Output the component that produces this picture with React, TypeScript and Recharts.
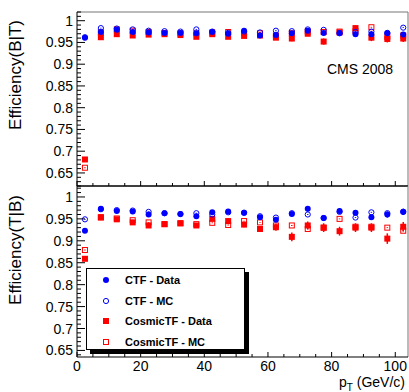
import { ScatterChart, Scatter, XAxis, YAxis, ErrorBar, ReferenceLine, Legend, Label } from "recharts";

// pT bin centres (GeV/c)
const ptBins = [2.5, 7.5, 12.5, 17.5, 22.5, 27.5, 32.5, 37.5, 42.5, 47.5, 52.5, 57.5, 62.5, 67.5, 72.5, 77.5, 82.5, 87.5, 92.5, 97.5, 102.5];

// upper pad: Efficiency(B|T)
const btCtfData = [0.961, 0.974, 0.979, 0.974, 0.973, 0.972, 0.972, 0.971, 0.974, 0.970, 0.977, 0.966, 0.967, 0.971, 0.977, 0.972, 0.972, 0.969, 0.969, 0.971, 0.968];
const btCtfDataErr = [0.002, 0.002, 0.002, 0.002, 0.002, 0.002, 0.002, 0.002, 0.002, 0.002, 0.002, 0.003, 0.003, 0.003, 0.003, 0.003, 0.003, 0.004, 0.004, 0.004, 0.004];
const btCtfMc = [0.962, 0.983, 0.982, 0.980, 0.977, 0.976, 0.975, 0.980, 0.975, 0.972, 0.975, 0.973, 0.977, 0.976, 0.980, 0.979, 0.971, 0.974, 0.975, 0.972, 0.984];
const btCosmicData = [0.681, 0.962, 0.969, 0.966, 0.968, 0.969, 0.967, 0.963, 0.969, 0.963, 0.965, 0.966, 0.961, 0.959, 0.970, 0.952, 0.973, 0.983, 0.961, 0.958, 0.959];
const btCosmicDataErr = [0.004, 0.002, 0.002, 0.002, 0.003, 0.003, 0.003, 0.003, 0.003, 0.004, 0.004, 0.005, 0.005, 0.006, 0.005, 0.007, 0.006, 0.006, 0.008, 0.008, 0.008];
const btCosmicMc = [0.662, 0.973, 0.980, 0.977, 0.974, 0.972, 0.971, 0.971, 0.973, 0.974, 0.971, 0.971, 0.966, 0.971, 0.975, 0.974, 0.975, 0.976, 0.985, 0.963, 0.966];

// lower pad: Efficiency(T|B)
const tbCtfData = [0.923, 0.973, 0.968, 0.967, 0.960, 0.963, 0.961, 0.956, 0.965, 0.967, 0.964, 0.954, 0.948, 0.961, 0.973, 0.952, 0.968, 0.964, 0.954, 0.960, 0.966];
const tbCtfDataErr = [0.003, 0.002, 0.002, 0.002, 0.003, 0.003, 0.003, 0.003, 0.003, 0.003, 0.003, 0.004, 0.004, 0.005, 0.006, 0.006, 0.006, 0.006, 0.006, 0.007, 0.007];
const tbCtfMc = [0.949, 0.972, 0.970, 0.969, 0.966, 0.963, 0.961, 0.963, 0.960, 0.965, 0.964, 0.956, 0.953, 0.963, 0.960, 0.952, 0.966, 0.953, 0.965, 0.963, 0.966];
const tbCosmicData = [0.859, 0.954, 0.949, 0.942, 0.935, 0.938, 0.940, 0.935, 0.950, 0.945, 0.937, 0.927, 0.931, 0.909, 0.935, 0.930, 0.922, 0.930, 0.930, 0.905, 0.932];
const tbCosmicDataErr = [0.004, 0.003, 0.003, 0.004, 0.004, 0.004, 0.004, 0.005, 0.005, 0.006, 0.006, 0.007, 0.008, 0.010, 0.009, 0.010, 0.010, 0.010, 0.010, 0.012, 0.011];
const tbCosmicMc = [0.879, 0.953, 0.951, 0.947, 0.942, 0.938, 0.940, 0.938, 0.941, 0.936, 0.945, 0.942, 0.935, 0.935, 0.927, 0.930, 0.950, 0.932, 0.932, 0.930, 0.923];

const legendNames = ["CTF - Data", "CTF - MC", "CosmicTF - Data", "CosmicTF - MC"];

const xTicks = [0, 5, 10, 15, 20, 25, 30, 35, 40, 45, 50, 55, 60, 65, 70, 75, 80, 85, 90, 95, 100];
const xLabels = [0, 20, 40, 60, 80, 100];
const yLabels = [0.65, 0.7, 0.75, 0.8, 0.85, 0.9, 0.95, 1];

const W = 409;
const H = 392;
const PLOT_LEFT = 77;
const PLOT_RIGHT = 408;
const SPLIT_Y = 186;
const AXIS_Y = 357;
const FONT = "'Liberation Sans', Arial, Helvetica, sans-serif";
const BLUE = "#0000ff";
const RED = "#ff0000";

// minor ticks every 0.01
const minorTicks = (lo: number, hi: number) => {
  const out: number[] = [];
  for (let v = Math.round(lo * 100); v <= Math.round(hi * 100); v++) out.push(v / 100);
  return out;
};
const yTicksTop = minorTicks(0.62, 1.02);
const yTicksBottom = minorTicks(0.64, 1.02);

const rows = (vals: number[], errs?: number[]) =>
  ptBins.map((pt, i) => ({ pt, eff: vals[i], err: errs ? errs[i] : 0.001 }));

function marker(kind: number, cx: number, cy: number) {
  if (kind === 0) return <circle cx={cx} cy={cy} r={3} fill={BLUE} />;
  if (kind === 1) return <circle cx={cx} cy={cy} r={2.6} fill="none" stroke={BLUE} strokeWidth={1} />;
  if (kind === 2) return <rect x={cx - 3} y={cy - 3} width={6} height={6} fill={RED} />;
  return <rect x={cx - 2.5} y={cy - 2.5} width={5} height={5} fill="none" stroke={RED} strokeWidth={1} />;
}

const shape = (kind: number) => (p: any) => marker(kind, p.cx, p.cy);

function YTick(props: any) {
  const { y, payload } = props;
  const v = payload.value;
  const major = yLabels.some((m) => Math.abs(m - v) < 1e-6);
  return (
    <g>
      <line x1={PLOT_LEFT} x2={PLOT_LEFT + (major ? 8 : 4)} y1={y} y2={y} stroke="#000" strokeWidth={1} />
      {major && (
        <text x={PLOT_LEFT - 4} y={y} textAnchor="end" dominantBaseline="central" fontSize={14} fontFamily={FONT} fill="#000">
          {String(Math.round(v * 100) / 100)}
        </text>
      )}
    </g>
  );
}

const makeXTick = (axisY: number, showLabels: boolean) => (props: any) => {
  const { x, payload } = props;
  const major = xLabels.includes(payload.value);
  return (
    <g>
      <line x1={x} x2={x} y1={axisY} y2={axisY - (major ? 5 : 3)} stroke="#000" strokeWidth={1} />
      {major && showLabels && (
        <text x={x} y={axisY + 14} textAnchor="middle" fontSize={14} fontFamily={FONT} fill="#000">
          {payload.value}
        </text>
      )}
    </g>
  );
};

const yTitle = (text: string, cy: number) => () => (
  <text x={15} y={cy} transform={`rotate(-90 15 ${cy})`} textAnchor="middle" dominantBaseline="central" fontSize={17} fontFamily={FONT} fill="#000">
    {text}
  </text>
);

function LegendBox() {
  return (
    <div style={{ position: "relative", width: 157, height: 80, background: "#fff", border: "1px solid #000", boxShadow: "4px 4px 0 #000", fontFamily: FONT, fontWeight: "bold", fontSize: 11, color: "#000" }}>
      {legendNames.map((name, i) => (
        <div key={name} style={{ position: "absolute", left: 0, top: 4 + i * 20.5, height: 14, display: "flex", alignItems: "center", whiteSpace: "nowrap" }}>
          <svg width={38} height={14}>{marker(i, 19, 7)}</svg>
          <span>{name}</span>
        </div>
      ))}
    </div>
  );
}

export default function App() {
  const layer = { position: "absolute" as const, left: 0, top: 0 };
  return (
    <div style={{ position: "absolute", left: 0, top: 0, width: W, height: H, background: "#fff" }}>
      <div style={layer}>
        <ScatterChart width={W} height={H} margin={{ top: 12, right: W - PLOT_RIGHT, bottom: H - SPLIT_Y - 2, left: 17 }}>
          <XAxis type="number" dataKey="pt" domain={[0, 104]} ticks={xTicks} interval={0} height={2} tickLine={false} axisLine={{ stroke: "#000" }} tick={makeXTick(SPLIT_Y, false)} allowDataOverflow />
          <YAxis type="number" dataKey="eff" domain={[0.62, 1.02]} ticks={yTicksTop} interval={0} width={60} tickLine={false} axisLine={{ stroke: "#000" }} tick={YTick} allowDataOverflow>
            <Label content={yTitle("Efficiency(B|T)", 75)} />
          </YAxis>
          <ReferenceLine y={1.02} stroke="#777" />
          <ReferenceLine y={0.62} stroke="#000" />
          <ReferenceLine x={104} stroke="#777" />
          <Scatter data={rows(btCosmicMc)} shape={shape(3)} isAnimationActive={false}>
            <ErrorBar dataKey="err" direction="y" width={0} stroke={RED} />
          </Scatter>
          <Scatter data={rows(btCosmicData, btCosmicDataErr)} shape={shape(2)} isAnimationActive={false}>
            <ErrorBar dataKey="err" direction="y" width={0} stroke={RED} />
          </Scatter>
          <Scatter data={rows(btCtfMc)} shape={shape(1)} isAnimationActive={false}>
            <ErrorBar dataKey="err" direction="y" width={0} stroke={BLUE} />
          </Scatter>
          <Scatter data={rows(btCtfData, btCtfDataErr)} shape={shape(0)} isAnimationActive={false}>
            <ErrorBar dataKey="err" direction="y" width={0} stroke={BLUE} />
          </Scatter>
        </ScatterChart>
      </div>
      <div style={layer}>
        <ScatterChart width={W} height={H} margin={{ top: SPLIT_Y, right: W - PLOT_RIGHT, bottom: 0, left: 17 }}>
          <XAxis type="number" dataKey="pt" domain={[0, 104]} ticks={xTicks} interval={0} height={H - AXIS_Y} tickLine={false} axisLine={{ stroke: "#000" }} tick={makeXTick(AXIS_Y, true)} allowDataOverflow>
            <Label
              content={() => (
                <text x={405} y={387} textAnchor="end" fontSize={14} fontFamily={FONT} fill="#000">
                  p<tspan fontSize={10} dy={4}>T</tspan>
                  <tspan dy={-4}> (GeV/c)</tspan>
                </text>
              )}
            />
          </XAxis>
          <YAxis type="number" dataKey="eff" domain={[0.635, 1.025]} ticks={yTicksBottom} interval={0} width={60} tickLine={false} axisLine={{ stroke: "#000" }} tick={YTick} allowDataOverflow>
            <Label content={yTitle("Efficiency(T|B)", 250)} />
          </YAxis>
          <ReferenceLine x={104} stroke="#777" />
          <Scatter name="CosmicTF - MC" data={rows(tbCosmicMc)} shape={shape(3)} isAnimationActive={false}>
            <ErrorBar dataKey="err" direction="y" width={0} stroke={RED} />
          </Scatter>
          <Scatter name="CosmicTF - Data" data={rows(tbCosmicData, tbCosmicDataErr)} shape={shape(2)} isAnimationActive={false}>
            <ErrorBar dataKey="err" direction="y" width={0} stroke={RED} />
          </Scatter>
          <Scatter name="CTF - MC" data={rows(tbCtfMc)} shape={shape(1)} isAnimationActive={false}>
            <ErrorBar dataKey="err" direction="y" width={0} stroke={BLUE} />
          </Scatter>
          <Scatter name="CTF - Data" data={rows(tbCtfData, tbCtfDataErr)} shape={shape(0)} isAnimationActive={false}>
            <ErrorBar dataKey="err" direction="y" width={0} stroke={BLUE} />
          </Scatter>
          <Legend layout="vertical" align="center" verticalAlign="middle" content={() => <LegendBox />} wrapperStyle={{ left: 86, top: 268, width: 159, height: 82 }} />
        </ScatterChart>
      </div>
      <div style={{ position: "absolute", left: 327, top: 61, fontFamily: FONT, fontSize: 14, color: "#000", whiteSpace: "nowrap" }}>CMS 2008</div>
    </div>
  );
}
